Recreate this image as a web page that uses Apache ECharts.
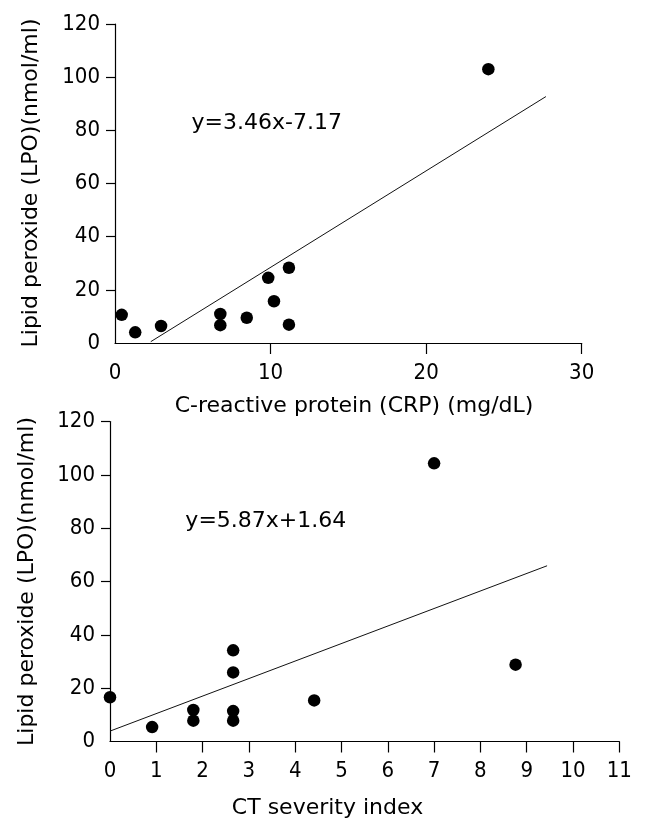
<!DOCTYPE html>
<html>
<head>
<meta charset="utf-8">
<script src="https://cdn.jsdelivr.net/npm/echarts@6/dist/echarts.min.js"></script>
<style>
html,body{margin:0;padding:0;background:#fff;}
#chart{width:645px;height:835px;}
</style>
</head>
<body>
<div id="chart"></div>
<script>
// Top panel: CRP vs LPO
const crpX = [0.43, 1.3, 2.96, 6.77, 6.77, 8.47, 9.85, 10.22, 11.18, 11.18, 24.0];
const crpY = [10.6, 4.0, 6.4, 10.9, 6.7, 9.5, 24.5, 15.7, 28.3, 6.9, 103.0];
const crpFitX = [2.3, 27.7];
const crpFitY = [0.5, 92.7];
const crpEquation = 'y=3.46x-7.17';
const crpXTicks = [0, 10, 20, 30];

// Bottom panel: CT severity index vs LPO
const ctX = [0, 0.91, 1.8, 1.8, 2.66, 2.66, 2.66, 2.66, 4.41, 7.0, 8.76];
const ctY = [16.6, 5.4, 11.8, 7.8, 34.2, 25.9, 11.4, 7.8, 15.4, 104.3, 28.8];
const ctFitX = [0, 9.44];
const ctFitY = [3.9, 65.9];
const ctEquation = 'y=5.87x+1.64';
const ctXTicks = [0, 1, 2, 3, 4, 5, 6, 7, 8, 9, 10, 11];

const lpoTicks = [0, 20, 40, 60, 80, 100, 120];
const yTitle = 'Lipid peroxide (LPO)(nmol/ml)';
const xTitleTop = 'C-reactive protein (CRP) (mg/dL)';
const xTitleBottom = 'CT severity index';

const TICKFONT = '"DejaVu Sans Condensed", "DejaVu Sans"';
const zip = (a, b) => a.map((v, i) => [v, b[i]]);

function xAxisCfg(gridIndex, ticks) {
  return {
    type: 'value', gridIndex,
    min: ticks[0], max: ticks[ticks.length - 1], interval: ticks[1] - ticks[0],
    splitLine: {show: false},
    axisLine: {show: true, onZero: false, lineStyle: {color: '#000', width: 1.2}},
    axisTick: {show: true, inside: false, length: 11, lineStyle: {color: '#000', width: 1.2},
      customValues: ticks.slice(1)},
    axisLabel: {color: '#000', fontFamily: TICKFONT, fontSize: 22, margin: 19,
      customValues: ticks, showMinLabel: true, showMaxLabel: true}
  };
}
function yAxisCfg(gridIndex) {
  return {
    type: 'value', gridIndex,
    min: 0, max: 120, interval: 20,
    splitLine: {show: false},
    axisLine: {show: true, onZero: false, lineStyle: {color: '#000', width: 1.2}},
    axisTick: {show: true, inside: false, length: 9, lineStyle: {color: '#000', width: 1.2},
      customValues: lpoTicks.slice(1)},
    axisLabel: {color: '#000', fontFamily: TICKFONT, fontSize: 22, margin: 15,
      customValues: lpoTicks, showMinLabel: true, showMaxLabel: true}
  };
}

const chart = echarts.init(document.getElementById('chart'), null, {renderer: 'canvas'});
const dotStyle = {color: '#000', opacity: 1};
const option = {
  backgroundColor: '#fff',
  animation: false,
  grid: [
    {left: 115, top: 24, width: 466.7, height: 319},
    {left: 110, top: 421.5, width: 509.3, height: 320}
  ],
  xAxis: [xAxisCfg(0, crpXTicks), xAxisCfg(1, ctXTicks)],
  yAxis: [yAxisCfg(0), yAxisCfg(1)],
  series: [
    {type: 'scatter', xAxisIndex: 0, yAxisIndex: 0, data: zip(crpX, crpY),
      symbol: 'circle', symbolSize: 12.5, itemStyle: dotStyle},
    {type: 'line', xAxisIndex: 0, yAxisIndex: 0, data: zip(crpFitX, crpFitY),
      showSymbol: false, symbol: 'none', lineStyle: {color: '#111', width: 1}},
    {type: 'scatter', xAxisIndex: 1, yAxisIndex: 1, data: zip(ctX, ctY),
      symbol: 'circle', symbolSize: 12.5, itemStyle: dotStyle},
    {type: 'line', xAxisIndex: 1, yAxisIndex: 1, data: zip(ctFitX, ctFitY),
      showSymbol: false, symbol: 'none', lineStyle: {color: '#111', width: 1}}
  ],
  graphic: [
    {type: 'text', x: 266.7, y: 123, style: {text: crpEquation, font: '22px "DejaVu Sans"', fill: '#000', align: 'center', verticalAlign: 'middle'}},
    {type: 'text', x: 265.8, y: 521.7, style: {text: ctEquation, font: '22px "DejaVu Sans"', fill: '#000', align: 'center', verticalAlign: 'middle'}},
    {type: 'text', x: 354, y: 406.7, style: {text: xTitleTop, font: '22px "DejaVu Sans"', fill: '#000', align: 'center', verticalAlign: 'middle'}},
    {type: 'text', x: 327.5, y: 808, style: {text: xTitleBottom, font: '22px "DejaVu Sans"', fill: '#000', align: 'center', verticalAlign: 'middle'}},
    {type: 'text', x: 31.5, y: 183, rotation: Math.PI / 2, style: {text: yTitle, font: '22px "DejaVu Sans"', fill: '#000', align: 'center', verticalAlign: 'middle'}},
    {type: 'text', x: 27, y: 581.5, rotation: Math.PI / 2, style: {text: yTitle, font: '22px "DejaVu Sans"', fill: '#000', align: 'center', verticalAlign: 'middle'}}
  ]
};
chart.setOption(option);
</script>
</body>
</html>
